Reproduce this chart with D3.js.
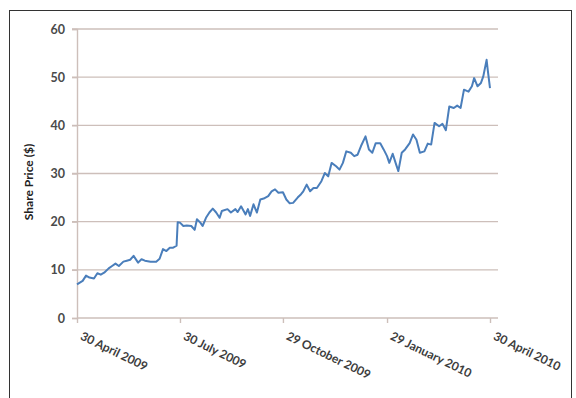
<!DOCTYPE html>
<html>
<head>
<meta charset="utf-8">
<script src="https://cdn.jsdelivr.net/npm/d3@7"></script>
<style>
  body { margin: 0; background: #fff; }
  svg { display: block; font-family: Lato, "Open Sans", sans-serif; }
</style>
</head>
<body>
<div id="chart"></div>
<script>
// ------------------
// Data
// ------------------
const startDate = new Date(2009, 3, 30);
const tickDates = ["2009-04-30", "2009-07-30", "2009-10-29", "2010-01-29", "2010-04-30"];
const tickLabels = ["30 April 2009", "30 July 2009", "29 October 2009", "29 January 2010", "30 April 2010"];
const yTicks = [0, 10, 20, 30, 40, 50, 60];

// days after 30 April 2009
const days = [0, 5, 8, 11, 15, 18, 21, 24, 28, 31, 34, 37, 41, 44, 47, 50, 54, 57, 60, 65,
  70, 73, 76, 79, 82, 85, 88, 89, 91, 94, 97, 101, 104, 106, 109, 111, 114, 117, 120, 123,
  126, 128, 133, 136, 140, 142, 145, 149, 151, 153, 156, 159, 162, 165, 169, 172, 175, 178, 182, 185,
  188, 191, 195, 198, 200, 203, 206, 209, 212, 216, 219, 222, 225, 229, 232, 235, 238, 242, 245, 248,
  251, 255, 258, 261, 264, 268, 271, 274, 276, 279, 282, 284, 287, 290, 294, 297, 300, 303, 307, 310,
  313, 316, 320, 323, 326, 329, 333, 336, 339, 342, 346, 349, 351, 354, 357, 359, 362, 363, 365];
const prices = [7.0, 7.7, 8.8, 8.4, 8.2, 9.3, 9.0, 9.4, 10.3, 10.8, 11.3, 10.8, 11.7, 11.9, 12.1, 12.9, 11.5, 12.2, 11.9, 11.7,
  11.7, 12.3, 14.3, 13.9, 14.6, 14.6, 15.0, 19.9, 19.8, 19.1, 19.2, 19.1, 18.3, 20.5, 19.8, 19.1, 20.8, 21.9, 22.7, 21.9,
  20.8, 22.2, 22.6, 21.9, 22.6, 22.0, 23.2, 21.5, 22.6, 21.2, 23.6, 21.9, 24.6, 24.8, 25.3, 26.3, 26.7, 26.0, 26.1, 24.6,
  23.8, 23.9, 25.0, 25.7, 26.3, 27.7, 26.3, 27.0, 27.0, 28.4, 30.1, 29.4, 32.2, 31.5, 30.8, 32.2, 34.6, 34.3, 33.6, 33.9,
  35.7, 37.7, 35.0, 34.3, 36.3, 36.3, 35.0, 33.6, 32.2, 34.1, 31.9, 30.5, 34.3, 35.0, 36.3, 38.1, 37.0, 34.3, 34.6, 36.2,
  36.0, 40.5, 39.8, 40.3, 39.0, 43.9, 43.6, 44.1, 43.6, 47.4, 47.0, 48.1, 49.8, 48.1, 48.8, 50.1, 53.6, 51.5, 47.7];

// ------------------
// Chart
// ------------------
const width = 576, height = 398;
const svg = d3.select("#chart").append("svg")
  .attr("width", width)
  .attr("height", height);

// outer frame
svg.append("rect")
  .attr("x", 9.5).attr("y", 10.5)
  .attr("width", 562).attr("height", 400)
  .attr("fill", "none")
  .attr("stroke", "#333")
  .attr("stroke-width", 1);

const parse = d3.timeParse("%Y-%m-%d");
const x = d3.scaleTime()
  .domain([parse(tickDates[0]), parse(tickDates[4])])
  .range([77, 490]);
const y = d3.scaleLinear().domain([0, 60]).range([318, 29]);

const gridColor = "#cdbfba";

// gridlines
svg.append("g")
  .selectAll("line")
  .data(yTicks.filter(d => d > 0))
  .join("line")
  .attr("x1", 72).attr("x2", 498)
  .attr("y1", d => y(d)).attr("y2", d => y(d))
  .attr("stroke", gridColor)
  .attr("stroke-width", 1.4);

// y axis
const yAxis = svg.append("g")
  .attr("transform", "translate(77,0)")
  .call(d3.axisLeft(y).tickValues(yTicks).tickSize(5).tickPadding(7));
yAxis.select(".domain").attr("stroke", gridColor).attr("stroke-width", 1.4);
yAxis.selectAll(".tick line").attr("stroke", gridColor).attr("stroke-width", 1.4);
yAxis.selectAll("text")
  .attr("font-size", 12.5)
  .attr("font-weight", "bold")
  .attr("fill", "#4a4a4a")
  .attr("font-family", "Lato, sans-serif");

// x axis
const xAxis = svg.append("g")
  .attr("transform", "translate(0,318)")
  .call(d3.axisBottom(x)
    .tickValues(tickDates.map(parse))
    .tickSize(5)
    .tickFormat((d, i) => tickLabels[i]));
xAxis.select(".domain").attr("d", "M77,0H498").attr("stroke", gridColor).attr("stroke-width", 1.4);
xAxis.selectAll(".tick line").attr("stroke", gridColor).attr("stroke-width", 1.4);
xAxis.selectAll("text")
  .attr("font-size", 12)
  .attr("font-weight", "bold")
  .attr("fill", "#3d3d3d")
  .attr("font-family", "Lato, sans-serif")
  .attr("text-anchor", "start")
  .attr("y", 0)
  .attr("dy", 0)
  .attr("transform", "translate(2,21) rotate(26)");

// y title
svg.append("text")
  .attr("transform", "translate(33,182) rotate(-90)")
  .attr("text-anchor", "middle")
  .attr("font-size", 12)
  .attr("font-weight", "bold")
  .attr("fill", "#222")
  .text("Share Price ($)");

// price line
const points = days.map((d, i) => ({ date: d3.timeDay.offset(startDate, d), value: prices[i] }));
svg.append("path")
  .datum(points)
  .attr("fill", "none")
  .attr("stroke", "#4a7ebb")
  .attr("stroke-width", 2)
  .attr("stroke-linejoin", "round")
  .attr("d", d3.line().x(d => x(d.date)).y(d => y(d.value)));
</script>
</body>
</html>
